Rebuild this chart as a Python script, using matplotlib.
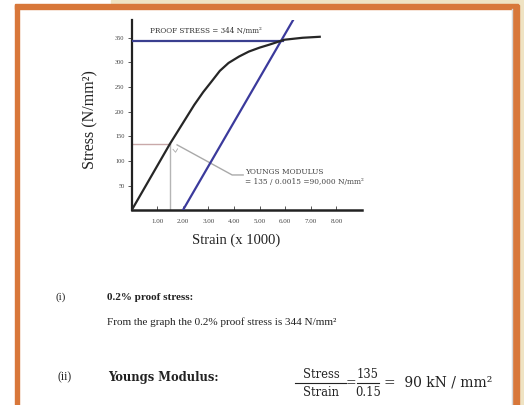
import matplotlib
matplotlib.use("Agg")
import matplotlib.pyplot as plt
from matplotlib.patches import Rectangle
from matplotlib.lines import Line2D

# ---- data ----
curve_strain = [0, 1.5, 2.45, 2.8, 3.12, 3.45, 3.79, 4.2, 4.58, 5.0, 5.38, 5.97, 6.68, 7.35]
curve_stress = [0, 135, 214, 240, 261, 283, 299, 312, 322, 330, 336, 346, 350, 352]
offset_strain = [2.0, 6.3]
offset_stress = [0, 385]
proof_stress = 344
proof_strain_end = 5.9
ym_strain = 1.5
ym_stress = 135
x_ticks = [1, 2, 3, 4, 5, 6, 7, 8]
x_ticklabels = ["1.00", "2.00", "3.00", "4.00", "5.00", "6.00", "7.00", "8.00"]
y_ticks = [50, 100, 150, 200, 250, 300, 350]

W, H = 524, 405
plt.rcParams["font.family"] = ["Liberation Serif", "DejaVu Serif"]
fig = plt.figure(figsize=(W / 100, H / 100), dpi=100)
fig.patch.set_facecolor("white")

WIDE = ["DejaVu Serif"]

def fx(x):
    return x / W

def fy(y):
    return 1 - y / H

beige = "#efe3c3"
orange = "#d8773a"
# frame
fig.patches.append(Rectangle((fx(518), 0), 1 - fx(518), 1, transform=fig.transFigure, color=beige, zorder=0))
fig.patches.append(Rectangle((fx(111), fy(4.5)), 1 - fx(111), 1 - fy(4.5), transform=fig.transFigure, color=beige, zorder=0))
fig.patches.append(Rectangle((fx(15), fy(9)), fx(518) - fx(15), fy(4.5) - fy(9), transform=fig.transFigure, color=orange, zorder=1))
fig.patches.append(Rectangle((fx(15), 0), fx(19) - fx(15), fy(4.5), transform=fig.transFigure, color=orange, zorder=1))
fig.patches.append(Rectangle((fx(513), 0), fx(518.5) - fx(513), fy(4.5), transform=fig.transFigure, color=orange, zorder=1))
fig.add_artist(Line2D([fx(511.5), fx(511.5)], [0, fy(9)], transform=fig.transFigure, color="#d5d5d5", lw=1))

# axes
ax = fig.add_axes([fx(131.5), fy(210.5), fx(362) - fx(131.5), fy(20) - fy(210.5)])
ax.set_facecolor("none")
ax.set_xlim(0, 9.0)
ax.set_ylim(0, 386)
for s in ["top", "right"]:
    ax.spines[s].set_visible(False)
ax.spines["left"].set_linewidth(1.6)
ax.spines["bottom"].set_linewidth(1.8)
ax.spines["left"].set_color("#222222")
ax.spines["bottom"].set_color("#222222")

ax.set_xticks(x_ticks)
ax.set_xticklabels(x_ticklabels)
ax.set_yticks(y_ticks)
ax.tick_params(axis="x", direction="in", length=3, width=0.7, color="#555555", labelsize=5, pad=6, labelcolor="#444444")
ax.tick_params(axis="y", direction="out", length=3, width=0.7, color="#555555", labelsize=4.6, pad=2, labelcolor="#444444")

# grey construction lines
ax.plot([0, ym_strain], [ym_stress, ym_stress], color="#c9a9a9", lw=1.0, zorder=2)
ax.plot([ym_strain, ym_strain], [0, ym_stress], color="#b5b5b5", lw=1.0, zorder=2)

# proof stress line
ax.plot([0, proof_strain_end], [proof_stress, proof_stress], color="#3a3f8f", lw=1.6, zorder=3)
# offset line
ax.plot(offset_strain, offset_stress, color="#3b3a9c", lw=1.6, zorder=3)
# stress strain curve
ax.plot(curve_strain, curve_stress, color="#262626", lw=1.6, zorder=4)

ax.text(2.9, 363, "PROOF STRESS = 344 N/mm²", fontsize=5.2, family=WIDE, ha="center", va="center", color="#333333")

# youngs modulus annotation
ax.plot([1.78, 3.93, 4.36], [133, 72, 72], color="#a9a9a9", lw=1.0, zorder=2)
ax.plot([1.62, 1.72, 1.8], [124, 118, 125], color="#aaaaaa", lw=0.6, zorder=2)
ax.text(4.45, 78, "YOUNGS MODULUS", fontsize=5.3, family=WIDE, ha="left", va="center", color="#444444")
ax.text(4.45, 57, "= 135 / 0.0015 =90,000 N/mm²", fontsize=5.3, family=WIDE, ha="left", va="center", color="#444444")

ax.set_xlabel("Strain (x 1000)", fontsize=10.5, color="#222222")
ax.xaxis.set_label_coords((236 - 131.5) / (362 - 131.5), -(240 - 210.5) / (210.5 - 20), transform=ax.transAxes)
ax.xaxis.label.set_va("center")
ax.set_ylabel("Stress (N/mm²)", fontsize=11.5, color="#222222")
ax.yaxis.set_label_coords(-(131.5 - 90) / (362 - 131.5), (210.5 - 120) / (210.5 - 20), transform=ax.transAxes)
ax.yaxis.label.set_va("center")

# lower text block
tc = "#222222"
fig.text(fx(56), fy(297), "(i)", fontsize=8, ha="left", va="center", color=tc)
fig.text(fx(107), fy(297), "0.2% proof stress:", fontsize=8, fontweight="bold", ha="left", va="center", color=tc)
fig.text(fx(107), fy(322), "From the graph the 0.2% proof stress is 344 N/mm²", fontsize=8, ha="left", va="center", color=tc)
fig.text(fx(57), fy(377), "(ii)", fontsize=8.5, ha="left", va="center", color=tc)
fig.text(fx(108), fy(377), "Youngs Modulus:", fontsize=8.3, fontweight="bold", family=WIDE, ha="left", va="center", color=tc)

# fraction
fig.text(fx(321), fy(374), "Stress", fontsize=8.3, family=WIDE, ha="center", va="center", color=tc)
fig.text(fx(321), fy(392), "Strain", fontsize=8.3, family=WIDE, ha="center", va="center", color=tc)
fig.add_artist(Line2D([fx(295), fx(346)], [fy(383), fy(383)], transform=fig.transFigure, color=tc, lw=0.8))
fig.text(fx(351), fy(383), "=", fontsize=9, family=WIDE, ha="center", va="center", color=tc)
fig.text(fx(368), fy(374), "135", fontsize=8.3, family=WIDE, ha="center", va="center", color=tc)
fig.text(fx(368), fy(392), "0.15", fontsize=8.3, family=WIDE, ha="center", va="center", color=tc)
fig.add_artist(Line2D([fx(357), fx(379)], [fy(383), fy(383)], transform=fig.transFigure, color=tc, lw=0.8))
fig.text(fx(384), fy(383), "=  90 kN / mm²", fontsize=10, family=WIDE, ha="left", va="center", color=tc)

fig.savefig("out.png", dpi=100, facecolor=fig.get_facecolor())
